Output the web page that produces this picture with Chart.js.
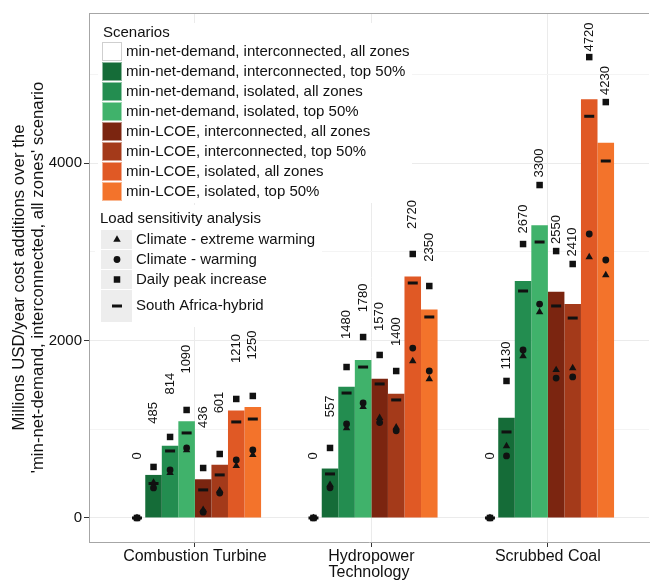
<!DOCTYPE html>
<html>
<head>
<meta charset="utf-8">
<script src="https://cdn.jsdelivr.net/npm/chart.js@4.4.1/dist/chart.umd.min.js"></script>
<style>
  html, body { margin: 0; padding: 0; background: #fff; overflow: hidden; }
  #chart { display: block; }
</style>
</head>
<body>
<canvas id="chart" width="657" height="581"></canvas>
<script>
// categories on the x axis
const categories = ['Combustion Turbine', 'Hydropower', 'Scrubbed Coal'];

// scenarios (one bar per scenario in every category)
const scenarios = [
    'min-net-demand, interconnected, all zones',
    'min-net-demand, interconnected, top 50%',
    'min-net-demand, isolated, all zones',
    'min-net-demand, isolated, top 50%',
    'min-LCOE, interconnected, all zones',
    'min-LCOE, interconnected, top 50%',
    'min-LCOE, isolated, all zones',
    'min-LCOE, isolated, top 50%'
];
const scenarioColors = ['#ffffff','#156c38','#238d50','#40b26b','#7b2510','#a43a1a','#e05925','#f3732b'];

// bar values, one array per scenario: [CT, Hydro, Coal]
const baseNID  = [0, 0, 0];
const netIT50  = [485, 557, 1130];
const netIAll  = [814, 1480, 2670];
const netI50   = [1090, 1780, 3300];
const lcoeIAll = [436, 1570, 2550];
const lcoeI50  = [601, 1400, 2410];
const lcoeSAll = [1210, 2720, 4720];
const lcoeS50  = [1250, 2350, 4230];
const barValues = [baseNID, netIT50, netIAll, netI50, lcoeIAll, lcoeI50, lcoeSAll, lcoeS50];

// load sensitivity analysis, rows = scenarios, cols = categories
const sensNames = ['Climate - extreme warming', 'Climate - warming', 'Daily peak increase', 'South Africa-hybrid'];
const extremeWarming = [
    [0, 0, 0], [400, 375, 811], [507, 1014, 1825], [766, 1251, 2321],
    [92, 1129, 1668], [308, 1022, 1690], [586, 1769, 2941], [710, 1566, 2738]
];
const warming = [
    [0, 0, 0], [338, 340, 699], [541, 1059, 1893], [789, 1296, 2411],
    [65, 1075, 1577], [280, 982, 1589], [653, 1915, 3200], [766, 1656, 2907]
];
const dailyPeak = [
    [0, 0, 0], [575, 789, 1544], [913, 1701, 3087], [1217, 2039, 3752],
    [563, 1837, 3008], [721, 1656, 2862], [1341, 2975, 5194], [1375, 2614, 4687]
];
const saHybrid = [
    [0, 0, 0], [388, 496, 969], [755, 1408, 2558], [958, 1701, 3110],
    [316, 1510, 2389], [485, 1330, 2253], [1082, 2648, 4527], [1115, 2265, 4023]
];
const sensValues = [extremeWarming, warming, dailyPeak, saHybrid];
const sensStyles = [
    { pointStyle: 'triangle', radius: 4.3, borderWidth: 0 },
    { pointStyle: 'circle', radius: 3.4, borderWidth: 0 },
    { pointStyle: 'rect', radius: 4.6, borderWidth: 0 },
    { pointStyle: 'line', radius: 5, borderWidth: 3 }
];

const dodge = 0.75;       // share of a category used by the bars
const labelLift = 700;    // value labels sit this far above the bar
const ink = '#111111';

Chart.defaults.font.family = "'Liberation Sans', Arial, sans-serif";
Chart.defaults.color = ink;

const datasets = [];
scenarios.forEach((name, s) => {
    datasets.push({
        type: 'bar',
        label: name,
        data: barValues[s].map((v, c) => ({ x: c + 1, y: v })),
        backgroundColor: scenarioColors[s],
        borderWidth: 0,
        categoryPercentage: dodge,
        barPercentage: 1,
        order: 2
    });
});
sensNames.forEach((name, k) => {
    const pts = [];
    sensValues[k].forEach((row, s) => {
        row.forEach((v, c) => {
            pts.push({ x: c + 1 + (s - (scenarios.length - 1) / 2) * dodge / scenarios.length, y: v });
        });
    });
    datasets.push({
        type: 'scatter',
        label: name,
        data: pts,
        pointStyle: sensStyles[k].pointStyle,
        pointRadius: sensStyles[k].radius,
        pointBorderWidth: sensStyles[k].borderWidth,
        pointBackgroundColor: ink,
        pointBorderColor: ink,
        order: 1
    });
});

const valueLabels = {
    id: 'valueLabels',
    afterDatasetsDraw(chart){
        const ctx = chart.ctx;
        const y = chart.scales.y;
        ctx.save();
        ctx.font = "13px 'Liberation Sans', Arial, sans-serif";
        ctx.fillStyle = ink;
        ctx.textAlign = 'center';
        ctx.textBaseline = 'middle';
        chart.data.datasets.forEach((ds, i) => {
            if(ds.type !== 'bar') return;
            chart.getDatasetMeta(i).data.forEach((bar, j) => {
                const v = ds.data[j].y;
                ctx.save();
                ctx.translate(bar.x, y.getPixelForValue(v + labelLift));
                ctx.rotate(-Math.PI / 2);
                ctx.fillText(String(v), 0, 0);
                ctx.restore();
            });
        });
        ctx.restore();
    }
};

const panelTop = {
    id: 'panelTop',
    afterDraw(chart){
        const a = chart.chartArea;
        const ctx = chart.ctx;
        ctx.save();
        ctx.strokeStyle = '#a6a6a6';
        ctx.lineWidth = 1;
        ctx.beginPath();
        ctx.moveTo(a.left, a.top + 0.5);
        ctx.lineTo(a.right, a.top + 0.5);
        ctx.stroke();
        ctx.restore();
    }
};

const legends = {
    id: 'legends',
    afterDatasetsDraw(chart){
        const ctx = chart.ctx;
        ctx.save();
        ctx.fillStyle = '#fff';
        ctx.fillRect(98, 23, 314, 180);
        ctx.fillRect(95, 205, 227, 122);
        ctx.font = "15px 'Liberation Sans', Arial, sans-serif";
        ctx.textAlign = 'left';
        ctx.textBaseline = 'middle';
        ctx.fillStyle = ink;
        ctx.fillText('Scenarios', 103, 33);
        scenarios.forEach((name, i) => {
            const top = 42 + 20 * i;
            ctx.fillStyle = scenarioColors[i];
            ctx.fillRect(102, top, 20, 19);
            ctx.strokeStyle = i === 0 ? '#cfcfcf' : 'rgba(255,255,255,0.5)';
            ctx.lineWidth = 1;
            ctx.strokeRect(102.5, top + 0.5, 19, 18);
            ctx.fillStyle = ink;
            ctx.fillText(name, 126, top + 10);
        });
        ctx.fillText('Load sensitivity analysis', 100, 219);
        const rowTop = [230, 250, 270, 290];
        const rowH = [19, 19, 19, 32];
        sensNames.forEach((name, k) => {
            ctx.fillStyle = '#ededed';
            ctx.fillRect(101, rowTop[k], 31, rowH[k]);
            const cy = rowTop[k] + rowH[k] / 2;
            ctx.fillStyle = ink;
            ctx.strokeStyle = ink;
            ctx.lineWidth = sensStyles[k].borderWidth;
            Chart.helpers.drawPoint(ctx, {
                pointStyle: sensStyles[k].pointStyle,
                radius: sensStyles[k].radius,
                borderWidth: sensStyles[k].borderWidth,
                rotation: 0
            }, 117, cy);
            ctx.fillStyle = ink;
            ctx.fillText(name, 136, cy);
        });
        ctx.restore();
    }
};

new Chart(document.getElementById('chart'), {
    type: 'bar',
    data: { datasets },
    options: {
        responsive: false,
        animation: false,
        devicePixelRatio: 1,
        layout: { padding: { top: 13, right: 0, bottom: 0, left: 0 } },
        plugins: { legend: { display: false }, tooltip: { enabled: false } },
        scales: {
            x: {
                type: 'linear',
                offset: false,
                min: 0.4,
                max: 3.573,
                afterBuildTicks: (scale) => { scale.ticks = categories.map((c, i) => ({ value: i + 1 })); },
                afterFit: (scale) => { scale.height = 39; },
                ticks: {
                    autoSkip: false,
                    maxRotation: 0,
                    padding: 0,
                    font: { size: 16 },
                    color: ink,
                    callback: (v) => categories[v - 1] || ''
                },
                grid: { offset: false, color: '#ebebeb', tickColor: '#333', tickLength: 5 },
                border: { color: '#a6a6a6' },
                title: { display: true, text: 'Technology', font: { size: 16, lineHeight: 1 }, padding: 0, color: ink }
            },
            y: {
                min: -271,
                max: 5691,
                afterBuildTicks: (scale) => { scale.ticks = [0, 1000, 2000, 3000, 4000, 5000].map(v => ({ value: v })); },
                afterFit: (scale) => { scale.width = 89; },
                ticks: {
                    padding: 2,
                    font: { size: 15 },
                    color: ink,
                    callback: (v) => v % 2000 === 0 ? String(v) : ''
                },
                grid: {
                    color: (c) => c.tick && c.tick.value % 2000 === 0 ? '#ebebeb' : '#f4f4f4',
                    tickColor: (c) => c.tick && c.tick.value % 2000 === 0 ? '#333' : 'rgba(0,0,0,0)',
                    tickLength: 5
                },
                border: { color: '#a6a6a6' },
                title: {
                    display: true,
                    text: ['Millions USD/year cost additions over the', "'min-net-demand, interconnected, all zones' scenario"],
                    font: { size: 16.8, lineHeight: 1.1 },
                    padding: { top: 10.5, bottom: 0 },
                    color: ink
                }
            }
        }
    },
    plugins: [legends, valueLabels, panelTop]
});
</script>
</body>
</html>
